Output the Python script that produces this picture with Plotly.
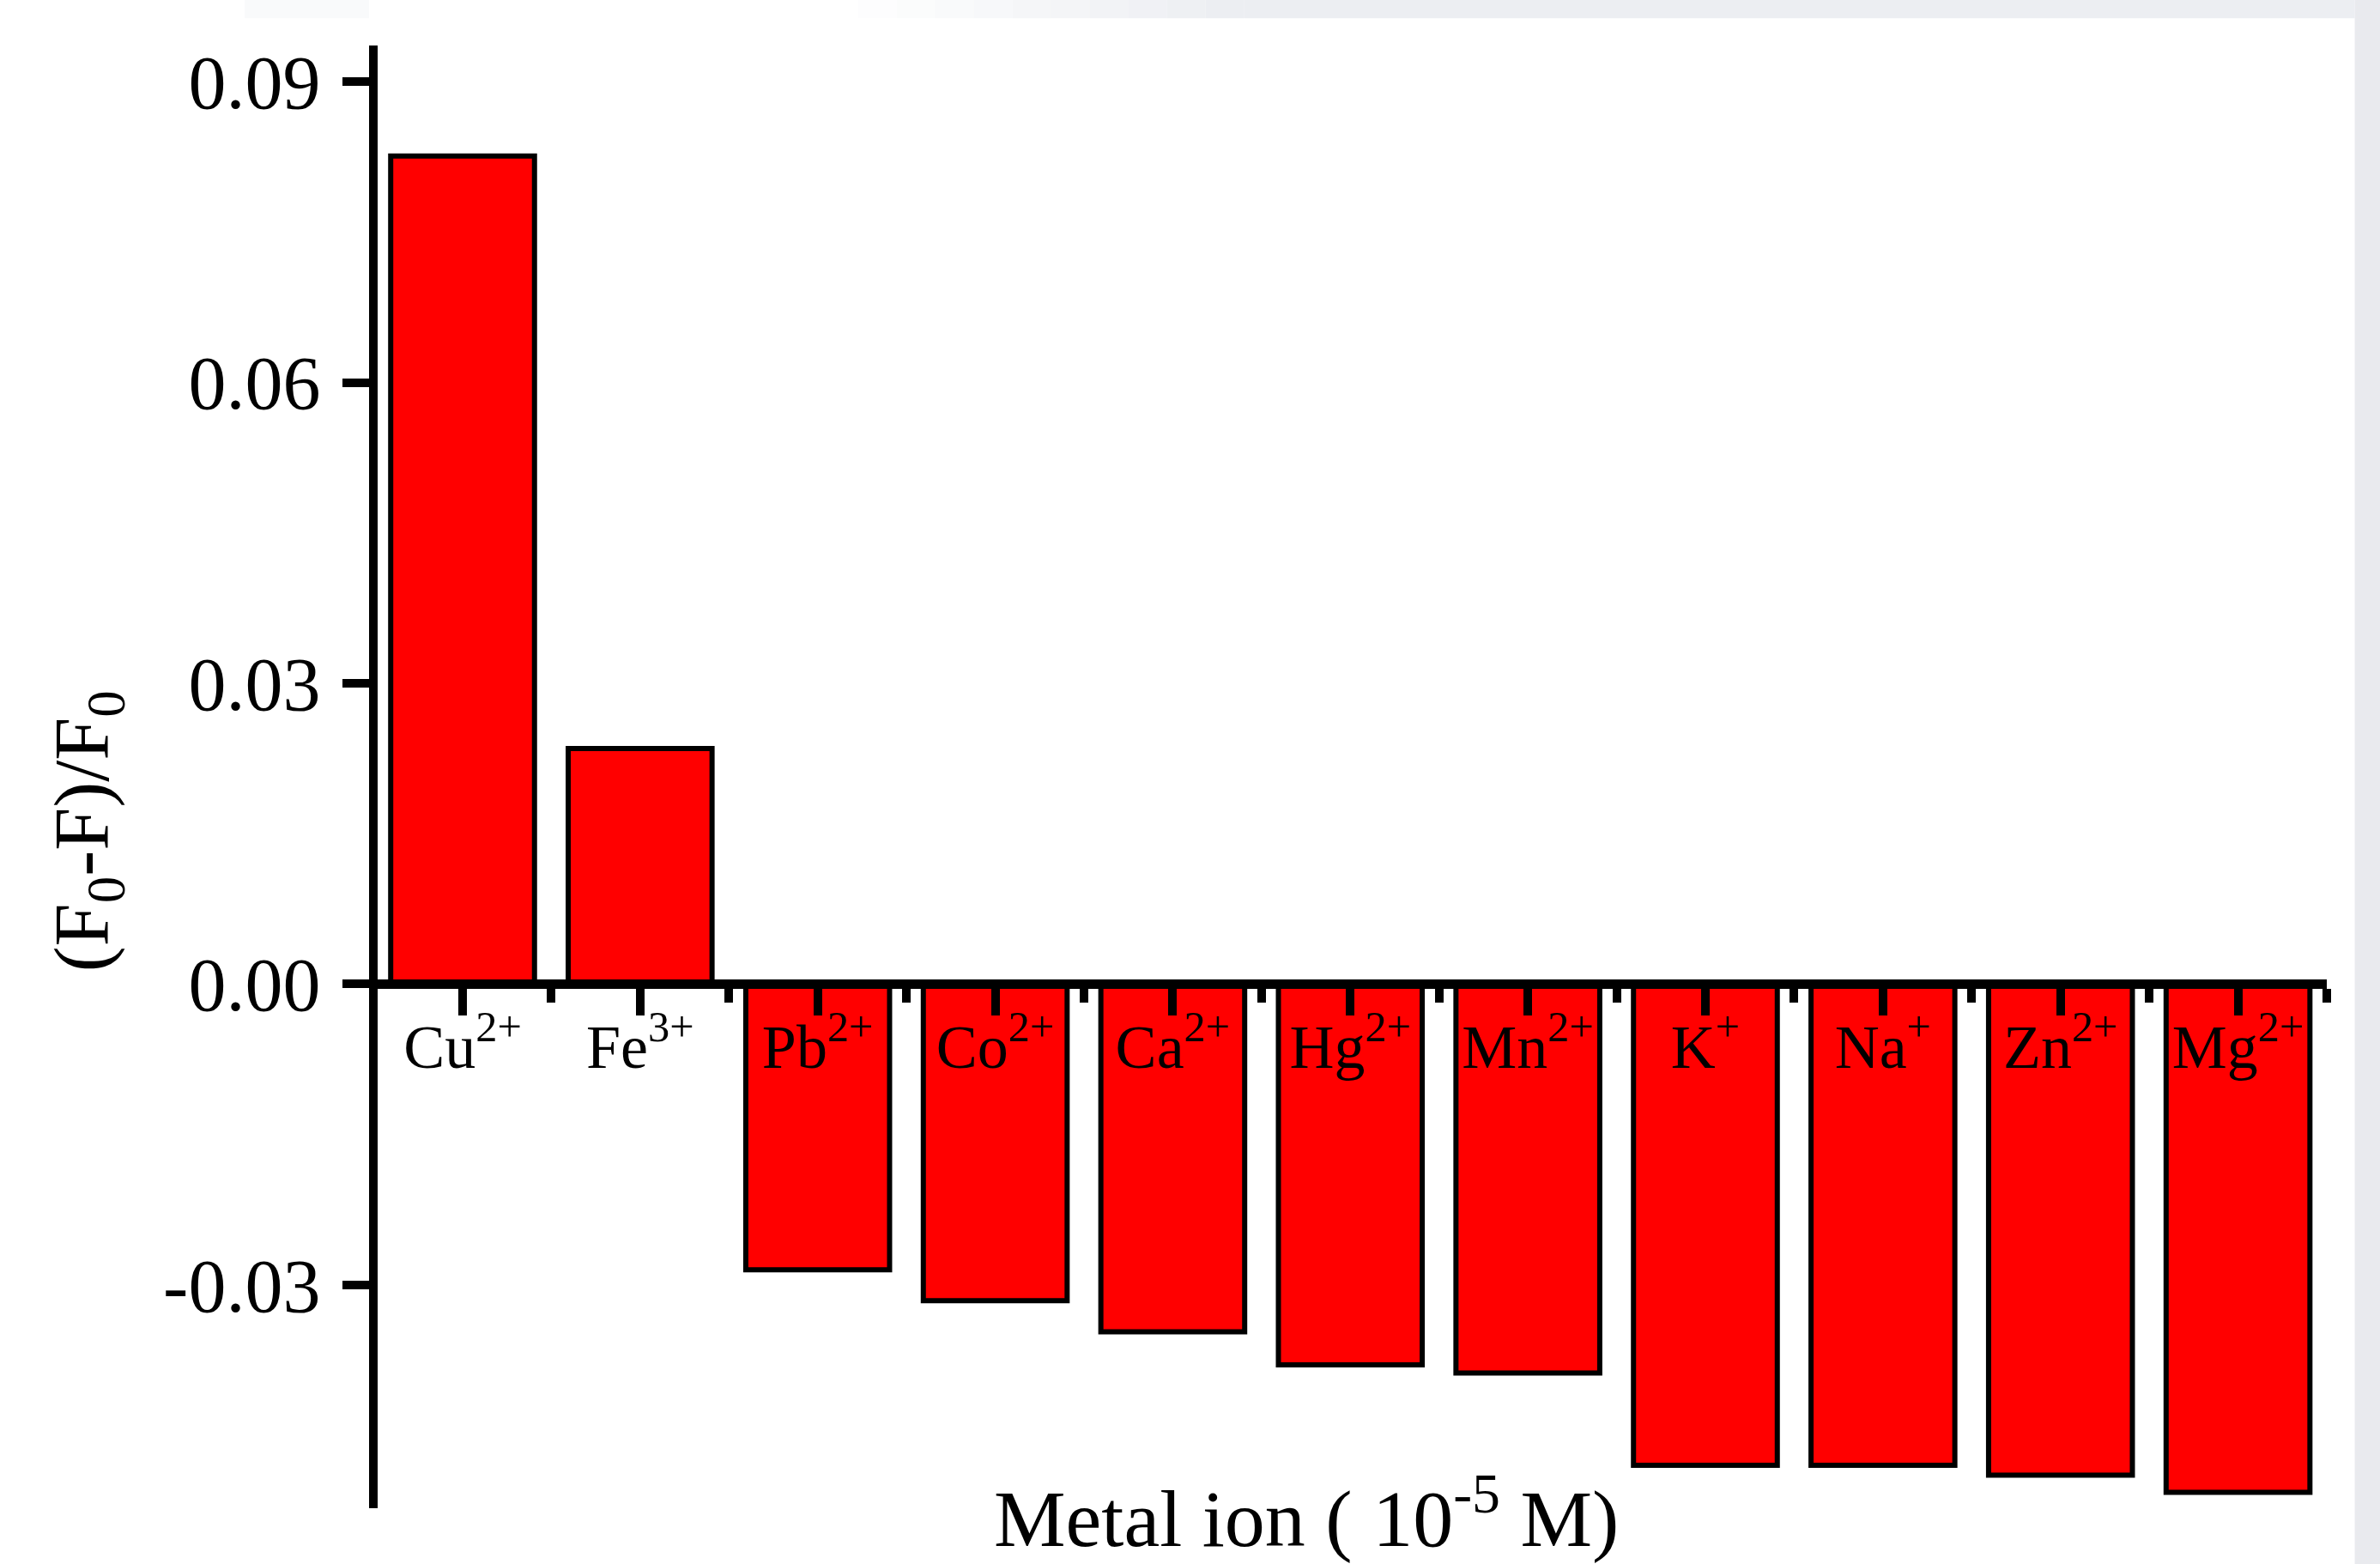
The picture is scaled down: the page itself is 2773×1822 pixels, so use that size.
import plotly.graph_objects as go

# ---- data ----
ions = ["Cu<sup>2+</sup>", "Fe<sup>3+</sup>", "Pb<sup>2+</sup>", "Co<sup>2+</sup>",
        "Ca<sup>2+</sup>", "Hg<sup>2+</sup>", "Mn<sup>2+</sup>", "K<sup>+</sup>",
        "Na<sup>+</sup>", "Zn<sup>2+</sup>", "Mg<sup>2+</sup>"]
values = [0.0826, 0.0235, -0.0285, -0.0316, -0.0347, -0.0380, -0.0388,
          -0.0480, -0.0480, -0.0490, -0.0507]
y_ticks = [-0.03, 0.0, 0.03, 0.06, 0.09]

# ---- geometry ----
W, H = 2773, 1822
L, R = 440, 2711.4
T, B = 52.7, 1756.7
ymin, ymax = -0.05229, 0.09362
xmin, xmax = -0.4785, 10.5
FONT = "Liberation Serif"

xpos = list(range(len(ions)))

fig = go.Figure()
fig.add_trace(go.Bar(
    x=xpos, y=values, width=0.81,
    marker=dict(color="#ff0000", line=dict(color="black", width=6)),
))

def px_to_paper_x(px):
    return (px - L) / (R - L)

def px_to_paper_y(py):
    return (B - py) / (B - T)

shapes = []
# right grey strip
shapes.append(dict(type="rect", xref="paper", yref="paper",
                   x0=px_to_paper_x(2744), x1=px_to_paper_x(2800),
                   y0=px_to_paper_y(1900), y1=px_to_paper_y(-20),
                   fillcolor="#e9eaee", line=dict(width=0), layer="below"))
# top grey strip with a soft fade-in
top_y0 = px_to_paper_y(21)
top_y1 = px_to_paper_y(-20)
steps = 10
x_start, x_full = 1000, 1450
for i in range(steps):
    a = x_start + (x_full - x_start) * i / steps
    b = x_start + (x_full - x_start) * (i + 1) / steps
    shapes.append(dict(type="rect", xref="paper", yref="paper",
                       x0=px_to_paper_x(a), x1=px_to_paper_x(b),
                       y0=top_y0, y1=top_y1,
                       fillcolor="#eceef2", opacity=(i + 1) / steps,
                       line=dict(width=0), layer="below"))
shapes.append(dict(type="rect", xref="paper", yref="paper",
                   x0=px_to_paper_x(x_full), x1=px_to_paper_x(2744),
                   y0=top_y0, y1=top_y1,
                   fillcolor="#eceef2", line=dict(width=0), layer="below"))
shapes.append(dict(type="rect", xref="paper", yref="paper",
                   x0=px_to_paper_x(285), x1=px_to_paper_x(430),
                   y0=top_y0, y1=top_y1,
                   fillcolor="#eceef2", opacity=0.3,
                   line=dict(width=0), layer="below"))

annotations = [
    dict(text="(F<sub>0</sub>-F)/F<sub>0</sub>", xref="paper", yref="paper",
         x=px_to_paper_x(102), y=px_to_paper_y(968), textangle=-90,
         xanchor="center", yanchor="middle", showarrow=False,
         font=dict(family=FONT, size=90, color="black")),
    dict(text="Metal ion ( 10<sup>-5</sup> M)", xref="paper", yref="paper",
         x=px_to_paper_x(1522.5), y=px_to_paper_y(1762),
         xanchor="center", yanchor="middle", showarrow=False,
         font=dict(family=FONT, size=94, color="black")),
]

fig.update_layout(
    width=W, height=H,
    margin=dict(l=L, r=W - R, t=T, b=H - B, pad=0),
    paper_bgcolor="white", plot_bgcolor="white",
    showlegend=False,
    shapes=shapes, annotations=annotations,
    xaxis=dict(
        range=[xmin, xmax], anchor="free",
        position=(0 - ymin) / (ymax - ymin),
        tickmode="array", tickvals=xpos, ticktext=ions,
        ticks="outside", ticklen=31, tickwidth=10, tickcolor="black",
        ticklabelstandoff=-26,
        minor=dict(tickmode="array",
                   tickvals=[i + 0.5 for i in xpos],
                   ticks="outside", ticklen=16, tickwidth=10,
                   tickcolor="black", showgrid=False),
        showline=True, linewidth=11, linecolor="black",
        showgrid=False, zeroline=False,
        tickfont=dict(family=FONT, size=72, color="black"),
        layer="above traces",
    ),
    yaxis=dict(
        range=[ymin, ymax],
        tickmode="array", tickvals=y_ticks,
        ticktext=[f"{v:.2f}" for v in y_ticks],
        ticks="outside", ticklen=31, tickwidth=10, tickcolor="black",
        ticklabelstandoff=8,
        showline=True, linewidth=10, linecolor="black",
        showgrid=False, zeroline=False,
        tickfont=dict(family=FONT, size=88, color="black"),
        layer="above traces",
    ),
)

fig.write_html("out.html")
